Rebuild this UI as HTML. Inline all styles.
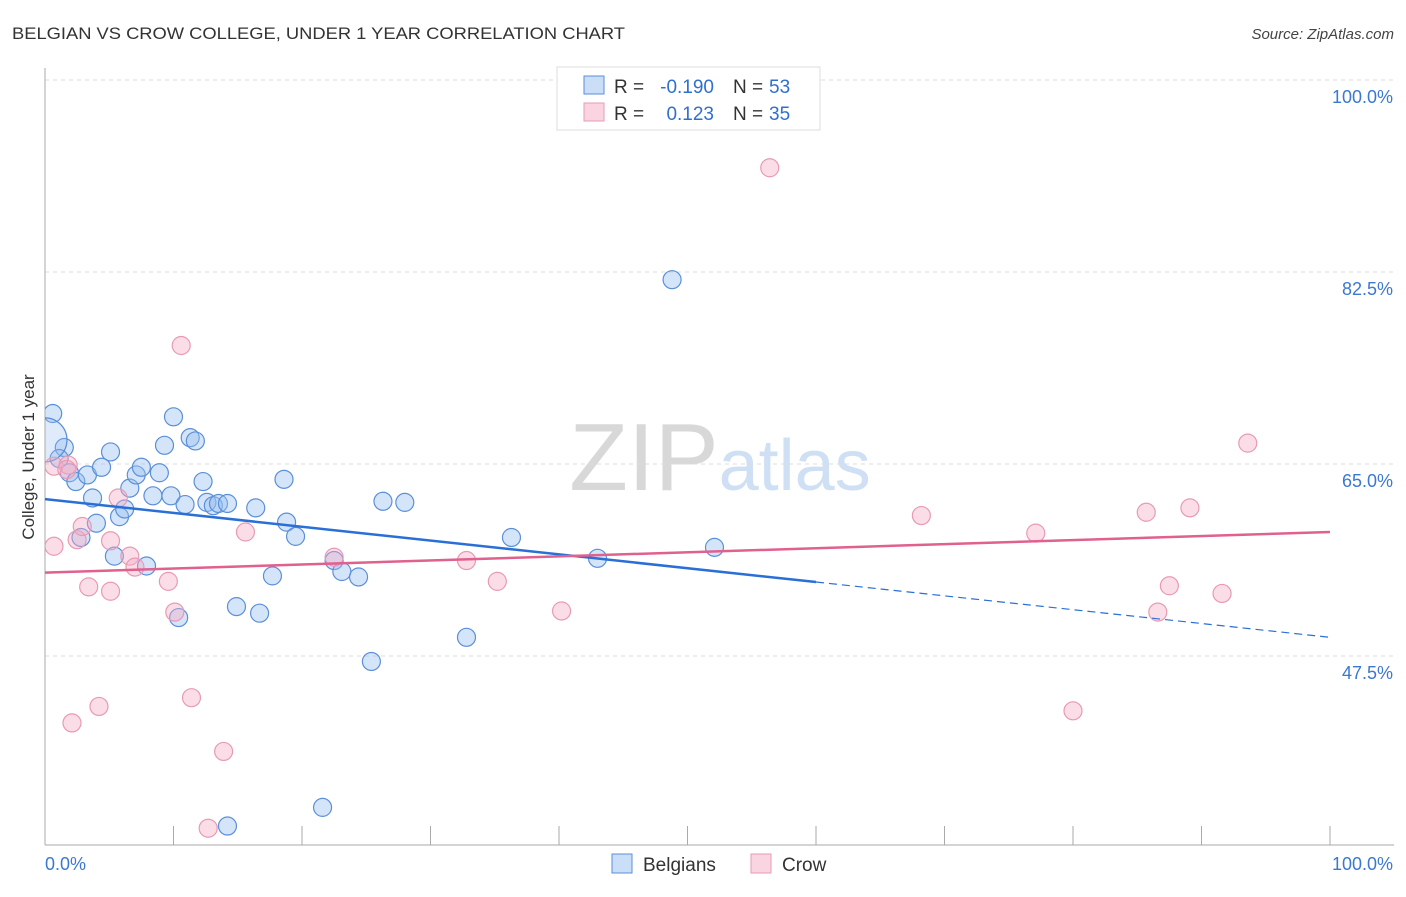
<!DOCTYPE html>
<html><head><meta charset="utf-8"><style>
body{margin:0;background:#fff;font-family:"Liberation Sans",sans-serif;}
svg text{font-family:"Liberation Sans",sans-serif;}
</style></head><body>
<svg id="chart" width="1406" height="892" xmlns="http://www.w3.org/2000/svg">
<defs><clipPath id="plotclip"><rect x="45" y="60" width="1360" height="785"/></clipPath></defs>
<text x="12" y="39" font-size="17" fill="#333" textLength="613" lengthAdjust="spacingAndGlyphs">BELGIAN VS CROW COLLEGE, UNDER 1 YEAR CORRELATION CHART</text>
<text x="1394" y="39" font-size="15" fill="#444" text-anchor="end" font-style="italic">Source: ZipAtlas.com</text>
<text x="720" y="490" font-size="96" text-anchor="middle" fill="#ddd" font-family="Liberation Serif"><tspan fill="#d8d8d8">ZIP</tspan><tspan fill="#cfe0f5" font-family="Liberation Sans" font-size="72">atlas</tspan></text>
<text transform="translate(34,457) rotate(-90)" font-size="17" fill="#333" text-anchor="middle">College, Under 1 year</text>
<g id="grid"></g><g id="marks" clip-path="url(#plotclip)"></g>
<g>
<rect x="557" y="67" width="263" height="63" fill="#fff" stroke="#ddd"/>
<rect x="584" y="76" width="20" height="18" fill="rgba(150,190,240,0.5)" stroke="#5b8fd9"/>
<rect x="584" y="103" width="20" height="18" fill="rgba(245,170,195,0.5)" stroke="#e89ab5"/>
<text x="614" y="93" font-size="19" fill="#333">R =</text>
<text x="714" y="93" font-size="19" fill="#2f6fd0" text-anchor="end">-0.190</text>
<text x="733" y="93" font-size="19" fill="#333">N =</text>
<text x="769" y="93" font-size="19" fill="#2f6fd0">53</text>
<text x="614" y="120" font-size="19" fill="#333">R =</text>
<text x="714" y="120" font-size="19" fill="#2f6fd0" text-anchor="end">0.123</text>
<text x="733" y="120" font-size="19" fill="#333">N =</text>
<text x="769" y="120" font-size="19" fill="#2f6fd0">35</text>
</g>
<g>
<rect x="612" y="854" width="20" height="19" fill="rgba(150,190,240,0.5)" stroke="#5b8fd9"/>
<text x="643" y="871" font-size="19" fill="#333">Belgians</text>
<rect x="751" y="854" width="20" height="19" fill="rgba(245,170,195,0.5)" stroke="#e89ab5"/>
<text x="782" y="871" font-size="19" fill="#333">Crow</text>
</g>
</svg>
<script>
const yTicks=[100,82.5,65,47.5];
const yTickLabels=["100.0%","82.5%","65.0%","47.5%"];
const blueX=[0.6,1.5,1.1,1.9,2.4,3.3,3.7,4.0,2.8,5.1,4.4,5.8,6.2,6.6,7.1,7.5,8.9,8.4,9.8,10.0,9.3,10.9,11.3,11.7,12.3,12.6,13.1,13.5,14.2,5.4,7.9,10.4,14.9,16.4,16.7,17.7,18.6,18.8,19.5,22.5,23.1,24.4,25.4,26.3,28.0,21.6,14.2,32.8,36.3,43.0,48.8,52.1,0];
const blueY=[69.6,66.5,65.5,64.2,63.4,64.0,61.9,59.6,58.3,66.1,64.7,60.2,60.9,62.8,64.0,64.7,64.2,62.1,62.1,69.3,66.7,61.3,67.4,67.1,63.4,61.5,61.2,61.4,61.4,56.6,55.7,51.0,52.0,61.0,51.4,54.8,63.6,59.7,58.4,56.2,55.2,54.7,47.0,61.6,61.5,33.7,32.0,49.2,58.3,56.4,81.8,57.4,67.2];
const pinkX=[0.7,1.8,1.7,0.7,2.5,2.9,3.4,5.1,5.1,5.7,6.6,7.0,9.6,10.1,10.6,2.1,4.2,11.4,13.9,12.7,15.6,22.5,32.8,35.2,40.2,56.4,68.2,77.1,80.0,85.7,86.6,87.5,89.1,91.6,93.6];
const pinkY=[64.8,64.9,64.5,57.5,58.1,59.3,53.8,53.4,58.0,61.9,56.6,55.6,54.3,51.5,75.8,41.4,42.9,43.7,38.8,31.8,58.8,56.5,56.2,54.3,51.6,92.0,60.3,58.7,42.5,60.6,51.5,53.9,61.0,53.2,66.9];
const blueTrend=[61.8,49.2]; const blueSolidEnd=60;
const pinkTrend=[55.1,58.8];
const NS="http://www.w3.org/2000/svg";
const X=v=>45+v*12.85, Y=v=>80+(100-v)*10.971;
function mk(t,a,p){const e=document.createElementNS(NS,t);for(const k in a)e.setAttribute(k,a[k]);p.appendChild(e);return e;}
const g=document.getElementById('grid'),m=document.getElementById('marks');
yTicks.forEach((t,i)=>{
 const l=mk('line',{x1:45,x2:1394,y1:Y(t),y2:Y(t),stroke:'#ddd','stroke-dasharray':'4,4'},g);
 
 
 const tx=mk('text',{x:1393,y:Y(t)+23,'font-size':18,fill:'#3a78d4','text-anchor':'end'},g);tx.textContent=yTickLabels[i];
 
 
});
mk('line',{x1:45,x2:45,y1:68,y2:845,stroke:'#aaa'},g);
mk('line',{x1:45,x2:1394,y1:845,y2:845,stroke:'#aaa'},g);
for(let i=1;i<=10;i++){const t=mk('line',{x1:X(i*10),x2:X(i*10),y1:826,y2:845,stroke:'#aaa'},g);
 
 }
let a=mk('text',{x:45,y:870,'font-size':18,fill:'#3a78d4'},g);a.textContent='0.0%';

a=mk('text',{x:1393,y:870,'font-size':18,fill:'#3a78d4','text-anchor':'end'},g);a.textContent='100.0%';

blueX.forEach((x,i)=>{const big=i==blueX.length-1;const c=mk('circle',{cx:X(x),cy:Y(blueY[i]),r:big?22:9,fill:big?'rgba(150,190,240,0.3)':'rgba(150,190,240,0.4)',stroke:'#5b8fd9','stroke-width':1.2},m);
 
 });
pinkX.forEach((x,i)=>{const c=mk('circle',{cx:X(x),cy:Y(pinkY[i]),r:9,fill:'rgba(245,170,195,0.4)',stroke:'#e89ab5','stroke-width':1.2},m);
 
 });
const bAt=v=>blueTrend[0]+(blueTrend[1]-blueTrend[0])*v/100;
let l=mk('line',{x1:X(0),y1:Y(bAt(0)),x2:X(blueSolidEnd),y2:Y(bAt(blueSolidEnd)),stroke:'#2a6fd6','stroke-width':2.5},m);

l=mk('line',{x1:X(blueSolidEnd),y1:Y(bAt(blueSolidEnd)),x2:X(100),y2:Y(bAt(100)),stroke:'#2a6fd6','stroke-width':1.2,'stroke-dasharray':'8,5'},m);

l=mk('line',{x1:X(0),y1:Y(pinkTrend[0]),x2:X(100),y2:Y(pinkTrend[1]),stroke:'#e0608e','stroke-width':2.5},m);

</script>
</body></html>
